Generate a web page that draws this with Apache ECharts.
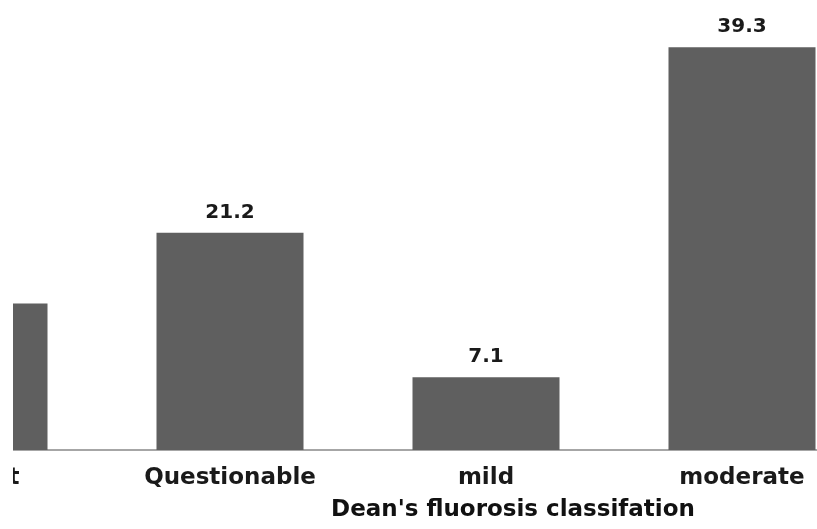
<!DOCTYPE html>
<html>
<head>
<meta charset="utf-8">
<script src="https://cdn.jsdelivr.net/npm/echarts@6/dist/echarts.min.js"></script>
<style>
html,body{margin:0;padding:0;background:#fff;overflow:hidden;width:817px;height:529px;position:relative}
#c{position:absolute;left:-154px;top:0;width:1024px;height:529px}
#mask{position:absolute;left:0;top:0;width:13px;height:529px;background:#fff;z-index:10}
</style>
</head>
<body>
<div id="c"></div>
<div id="mask"></div>
<script>
const categories = ["Absent", "Questionable", "mild", "moderate"];
const values = [14.3, 21.2, 7.1, 39.3];
const axisTitle = "Dean's fluorosis classifation";

const chart = echarts.init(document.getElementById('c'), null, {renderer: 'canvas'});
chart.setOption({
  animation: false,
  backgroundColor: '#ffffff',
  title: {
    text: axisTitle,
    left: 662,
    top: 494,
    textAlign: 'center',
    textStyle: {fontFamily: 'DejaVu Sans', fontWeight: 'bold', fontSize: 23, color: '#111'}
  },
  grid: {left: 0, right: 0, top: 40, bottom: 79},
  xAxis: {
    type: 'category',
    data: categories,
    axisLine: {lineStyle: {color: '#a6a6a6', width: 2}},
    axisTick: {show: false},
    axisLabel: {
      margin: 17,
      fontFamily: 'DejaVu Sans', fontWeight: 'bold', fontSize: 23, color: '#1a1a1a'
    }
  },
  yAxis: {type: 'value', min: 0, max: 40, show: false},
  series: [{
    type: 'bar',
    data: values,
    barWidth: 147,
    itemStyle: {color: '#5f5f5f'},
    label: {
      show: true, position: 'top', distance: 10,
      fontFamily: 'DejaVu Sans', fontWeight: 'bold', fontSize: 20, color: '#1a1a1a',
      formatter: p => p.value.toFixed(1)
    }
  }]
});
</script>
</body>
</html>
